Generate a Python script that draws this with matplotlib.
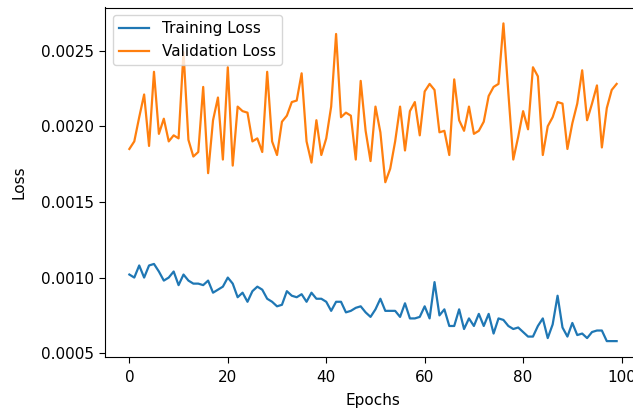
import matplotlib
matplotlib.use("Agg")
import matplotlib.pyplot as plt

plt.rcParams.update({
    "font.size": 11,
    "xtick.major.size": 4.2,
    "ytick.major.size": 4.2,
    "xtick.major.pad": 5,
    "ytick.major.pad": 4,
})

# perdidas por epoca del entrenamiento
epochs = list(range(100))

train_loss = [
    0.00102, 0.00100, 0.00108, 0.00100, 0.00108, 0.00109, 0.00104, 0.00098, 0.00100, 0.00104,
    0.00095, 0.00102, 0.00098, 0.00096, 0.00096, 0.00095, 0.00098, 0.00090, 0.00092, 0.00094,
    0.00100, 0.00096, 0.00087, 0.00090, 0.00084, 0.00091, 0.00094, 0.00092, 0.00086, 0.00084,
    0.00081, 0.00082, 0.00091, 0.00088, 0.00087, 0.00089, 0.00084, 0.00090, 0.00086, 0.00086,
    0.00084, 0.00078, 0.00084, 0.00084, 0.00077, 0.00078, 0.00080, 0.00081, 0.00077, 0.00074,
    0.00079, 0.00086, 0.00078, 0.00078, 0.00078, 0.00074, 0.00083, 0.00073, 0.00073, 0.00074,
    0.00081, 0.00073, 0.00097, 0.00075, 0.00079, 0.00068, 0.00068, 0.00079, 0.00066, 0.00073,
    0.00068, 0.00076, 0.00068, 0.00076, 0.00063, 0.00073, 0.00072, 0.00068, 0.00066, 0.00067,
    0.00064, 0.00061, 0.00061, 0.00068, 0.00073, 0.00060, 0.00069, 0.00088, 0.00067, 0.00061,
    0.00070, 0.00062, 0.00063, 0.00060, 0.00064, 0.00065, 0.00065, 0.00058, 0.00058, 0.00058,
]

val_loss = [
    0.00185, 0.00190, 0.00206, 0.00221, 0.00187, 0.00236, 0.00195, 0.00205, 0.00190, 0.00194,
    0.00192, 0.00249, 0.00191, 0.00180, 0.00183, 0.00226, 0.00169, 0.00204, 0.00219, 0.00178,
    0.00239, 0.00174, 0.00213, 0.00210, 0.00209, 0.00190, 0.00192, 0.00183, 0.00236, 0.00190,
    0.00181, 0.00203, 0.00207, 0.00216, 0.00217, 0.00235, 0.00190, 0.00176, 0.00204, 0.00181,
    0.00192, 0.00213, 0.00261, 0.00206, 0.00209, 0.00207, 0.00178, 0.00230, 0.00197, 0.00177,
    0.00213, 0.00196, 0.00163, 0.00172, 0.00190, 0.00213, 0.00184, 0.00210, 0.00216, 0.00194,
    0.00223, 0.00228, 0.00224, 0.00196, 0.00197, 0.00181, 0.00231, 0.00204, 0.00197, 0.00213,
    0.00195, 0.00197, 0.00203, 0.00220, 0.00226, 0.00228, 0.00268, 0.00222, 0.00178, 0.00193,
    0.00210, 0.00198, 0.00239, 0.00233, 0.00181, 0.00200, 0.00206, 0.00216, 0.00215, 0.00185,
    0.00202, 0.00215, 0.00237, 0.00204, 0.00215, 0.00227, 0.00186, 0.00212, 0.00224, 0.00228,
]

fig = plt.figure(figsize=(6.33, 4.12), dpi=100)
ax = fig.add_axes([105 / 633, 55 / 412, 536 / 633, 349.5 / 412])

ax.plot(epochs, train_loss, label="Training Loss", lw=1.6)
ax.plot(epochs, val_loss, label="Validation Loss", lw=1.6)
ax.set_xlabel("Epochs", labelpad=6)
ax.set_ylabel("Loss", labelpad=10)
ax.legend(loc="upper left")

fig.savefig("out.png", dpi=100)
